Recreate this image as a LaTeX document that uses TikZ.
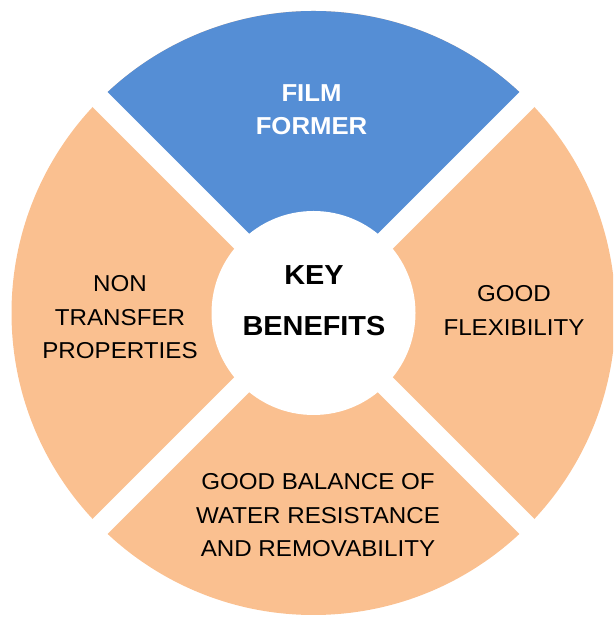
\documentclass[tikz,border=0pt]{standalone}
\usepackage{fontspec}
\setmainfont{Liberation Sans}[FakeStretch=1.05]
\definecolor{sectblue}{RGB}{85,142,213}
\definecolor{sectpeach}{RGB}{250,192,144}
\begin{document}
\begin{tikzpicture}[x=1pt,y=1pt,
  lbl/.style={align=center,inner sep=0pt,text=black,font=\fontsize{23}{33.5}\selectfont},
  centerlbl/.style={align=center,inner sep=0pt,text=black,font=\bfseries\fontsize{27.5}{51}\selectfont},
  toplbl/.style={align=center,inner sep=0pt,text=white,font=\bfseries\fontsize{24.5}{33.8}\selectfont}]
\useasboundingbox (0,0) rectangle (613,617);
\clip (0,0) rectangle (613,617);
\coordinate (C) at (313.5,304);
% sectors
\fill[sectpeach] (C) circle[radius=302pt];
\fill[sectblue] (C) -- ++(45:302pt) arc[start angle=45,end angle=135,radius=302pt] -- cycle;
% white gaps
\begin{scope}[shift={(C)},rotate=45]
  \fill[white] (-330,-10.5) rectangle (330,10.5);
  \fill[white] (-10.5,-330) rectangle (10.5,330);
\end{scope}
\fill[white] (C) circle[radius=102pt];
% labels
\node[toplbl] (film) at (311.5,507.25) {FILM\\FORMER};
\node[centerlbl] (key) at (314,316.5) {KEY\\BENEFITS};
\node[lbl] (non) at (120,299.5) {NON\\TRANSFER\\PROPERTIES};
\node[lbl] (flex) at (514,306.7) {GOOD\\FLEXIBILITY};
\node[lbl] (water) at (318,101.5) {GOOD BALANCE OF\\WATER RESISTANCE\\AND REMOVABILITY};
\end{tikzpicture}
\end{document}
